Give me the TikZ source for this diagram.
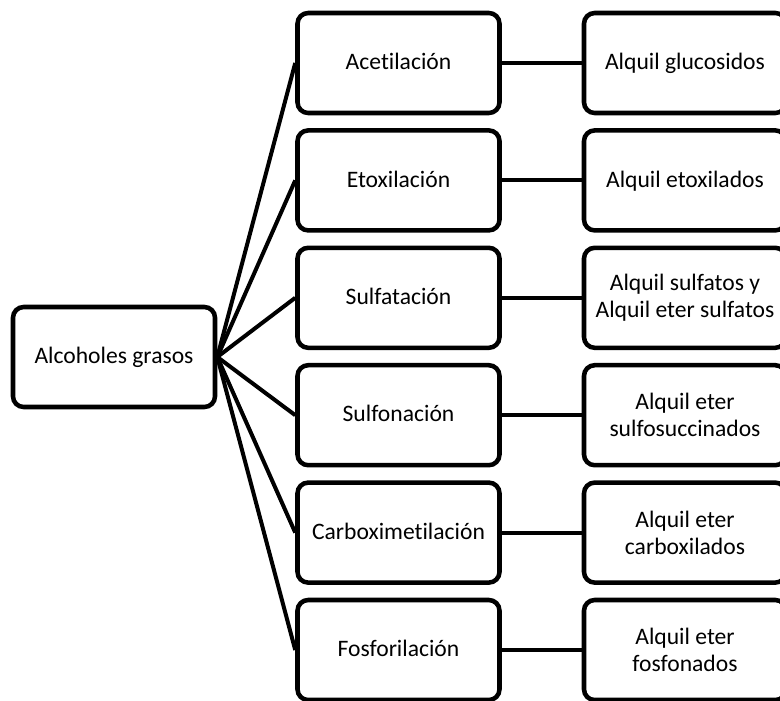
\documentclass[tikz,border=0pt]{standalone}
\usepackage{fontspec}
\setmainfont{Carlito}[Ligatures=NoCommon]
\begin{document}
\begin{tikzpicture}[x=0.75pt,y=-0.75pt,
 box/.style={draw=black, line width=3.4pt, rounded corners=8pt, minimum width=151.5pt, minimum height=75pt, align=center, inner sep=0pt, font=\fontsize{17.7}{20.3}\selectfont},
 one/.style={box, text height=13pt, text depth=3pt},
 conn/.style={draw=black, line width=3pt}]
\useasboundingbox (0,0) rectangle (780,700);
\clip (0,0) rectangle (780,700);
\node[one] (root) at (114,357) {Alcoholes grasos};
\node[one] (m1) at (398.5,63) {Acetilación};
\node[one] (m2) at (398.5,180.4) {Etoxilación};
\node[one] (m3) at (398.5,297.8) {Sulfatación};
\node[one] (m4) at (398.5,415.2) {Sulfonación};
\node[one] (m5) at (398.5,532.6) {Carboximetilación};
\node[one] (m6) at (398.5,650) {Fosforilación};
\node[one] (r1) at (685,63) {Alquil glucosidos};
\node[one] (r2) at (685,180.4) {Alquil etoxilados};
\node[box] (r3) at (685,297.8) {Alquil sulfatos y\\Alquil eter sulfatos};
\node[box] (r4) at (685,415.2) {Alquil eter\\sulfosuccinados};
\node[box] (r5) at (685,532.6) {Alquil eter\\carboxilados};
\node[box] (r6) at (685,650) {Alquil eter\\fosfonados};
\foreach \i in {1,...,6} {
  \draw[conn] (root.east) -- (m\i.west);
  \draw[conn] (m\i.east) -- (r\i.west);
}
\end{tikzpicture}
\end{document}
